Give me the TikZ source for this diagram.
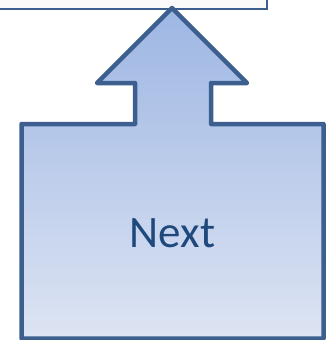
\documentclass[tikz,border=0pt]{standalone}
\usepackage{fontspec}
\setmainfont{Carlito}
\newlength{\du}
\setlength{\du}{1pt}
\begin{document}
\begin{tikzpicture}
\pgftransformxscale{1.000000}
\pgftransformyscale{-1.000000}
\useasboundingbox (0\du,0\du) rectangle (330\du,340\du);
% upper box, only its lower edge shows
\definecolor{dialinecolor}{rgb}{0.980000, 0.980000, 0.980000}
\pgfsetfillcolor{dialinecolor}
\fill (-5.000000\du,-5.000000\du)--(267.000000\du,-5.000000\du)--(267.000000\du,9.000000\du)--(-5.000000\du,9.000000\du)--cycle;
\pgfsetlinewidth{2.000000\du}
\pgfsetdash{}{0pt}
\pgfsetmiterjoin
\definecolor{dialinecolor}{rgb}{0.235000, 0.373000, 0.560000}
\pgfsetstrokecolor{dialinecolor}
\draw (-5.000000\du,-5.000000\du)--(267.000000\du,-5.000000\du)--(267.000000\du,9.000000\du)--(-5.000000\du,9.000000\du)--cycle;
% arrow with box
\definecolor{shadetop}{rgb}{0.615000, 0.714000, 0.890000}
\definecolor{shadebottom}{rgb}{0.867000, 0.894000, 0.953000}
\shade[top color=shadetop, bottom color=shadebottom] (172.000000\du,8.000000\du)--(247.000000\du,83.000000\du)--(211.000000\du,83.000000\du)--(211.000000\du,124.000000\du)--(323.500000\du,124.000000\du)--(323.500000\du,338.500000\du)--(21.500000\du,338.500000\du)--(21.500000\du,124.000000\du)--(135.000000\du,124.000000\du)--(135.000000\du,83.000000\du)--(97.000000\du,83.000000\du)--cycle;
\pgfsetlinewidth{4.500000\du}
\pgfsetdash{}{0pt}
\pgfsetroundjoin
\definecolor{dialinecolor}{rgb}{0.235000, 0.373000, 0.560000}
\pgfsetstrokecolor{dialinecolor}
\draw (172.000000\du,8.000000\du)--(247.000000\du,83.000000\du)--(211.000000\du,83.000000\du)--(211.000000\du,124.000000\du)--(323.500000\du,124.000000\du)--(323.500000\du,338.500000\du)--(21.500000\du,338.500000\du)--(21.500000\du,124.000000\du)--(135.000000\du,124.000000\du)--(135.000000\du,83.000000\du)--(97.000000\du,83.000000\du)--cycle;
% setfont left to latex
\definecolor{dialinecolor}{rgb}{0.122000, 0.286000, 0.490000}
\node[text=dialinecolor, font=\fontsize{45}{54}\selectfont] (next) at (172.500000\du,233.000000\du){Next};
\end{tikzpicture}
\end{document}
